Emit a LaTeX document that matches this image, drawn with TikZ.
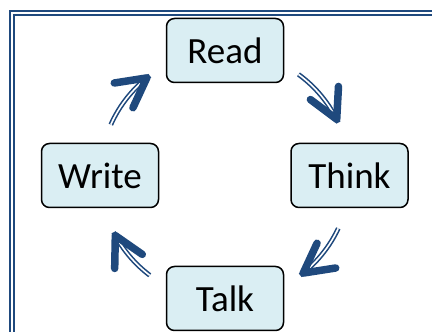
\documentclass[tikz,border=0pt]{standalone}
\usepackage{fontspec}
\setmainfont{Carlito}
\usetikzlibrary{arrows.meta,decorations.markings}
\definecolor{flowblue}{RGB}{31,73,125}
\definecolor{boxfill}{RGB}{218,238,243}

\begin{document}
\begin{tikzpicture}[x=1pt, y=1pt,
  stage/.style={draw=black, line width=1.5pt, fill=boxfill, rounded corners=8pt, minimum width=117pt, minimum height=64pt, font=\fontsize{37}{40}\selectfont},
  turn/.style={draw=flowblue, double=white, line width=1.6pt, double distance=1.6pt, postaction={decorate},
    decoration={markings, mark=at position 1 with {\arrow[flowblue]{Straight Barb[length=29pt, width=31pt, line width=7.5pt, round]}}}}]
\useasboundingbox (0,0) rectangle (432,332);
\clip (0,0) rectangle (432,332);
% outer frame, cut by the page
\draw[flowblue, double=white, line width=2pt, double distance=2pt] (12,-20) rectangle (470,319);
\node[stage] (read) at (225,281.5) {Read};
\node[stage] (think) at (349.5,156.5) {Think};
\node[stage] (write) at (100,156.5) {Write};
\node[stage] (talk) at (225,33.5) {Talk};
\coordinate (hub) at (read |- write);
% the cycle
\draw[turn] ([shift={(54:125)}]hub) arc[start angle=54, end angle=25, radius=125];
\draw[turn] ([shift={(-25:125)}]hub) arc[start angle=-25, end angle=-53, radius=125];
\draw[turn] ([shift={(-127:125)}]hub) arc[start angle=-127, end angle=-153, radius=125];
\draw[turn] ([shift={(156:125)}]hub) arc[start angle=156, end angle=127, radius=125];
\end{tikzpicture}
\end{document}
